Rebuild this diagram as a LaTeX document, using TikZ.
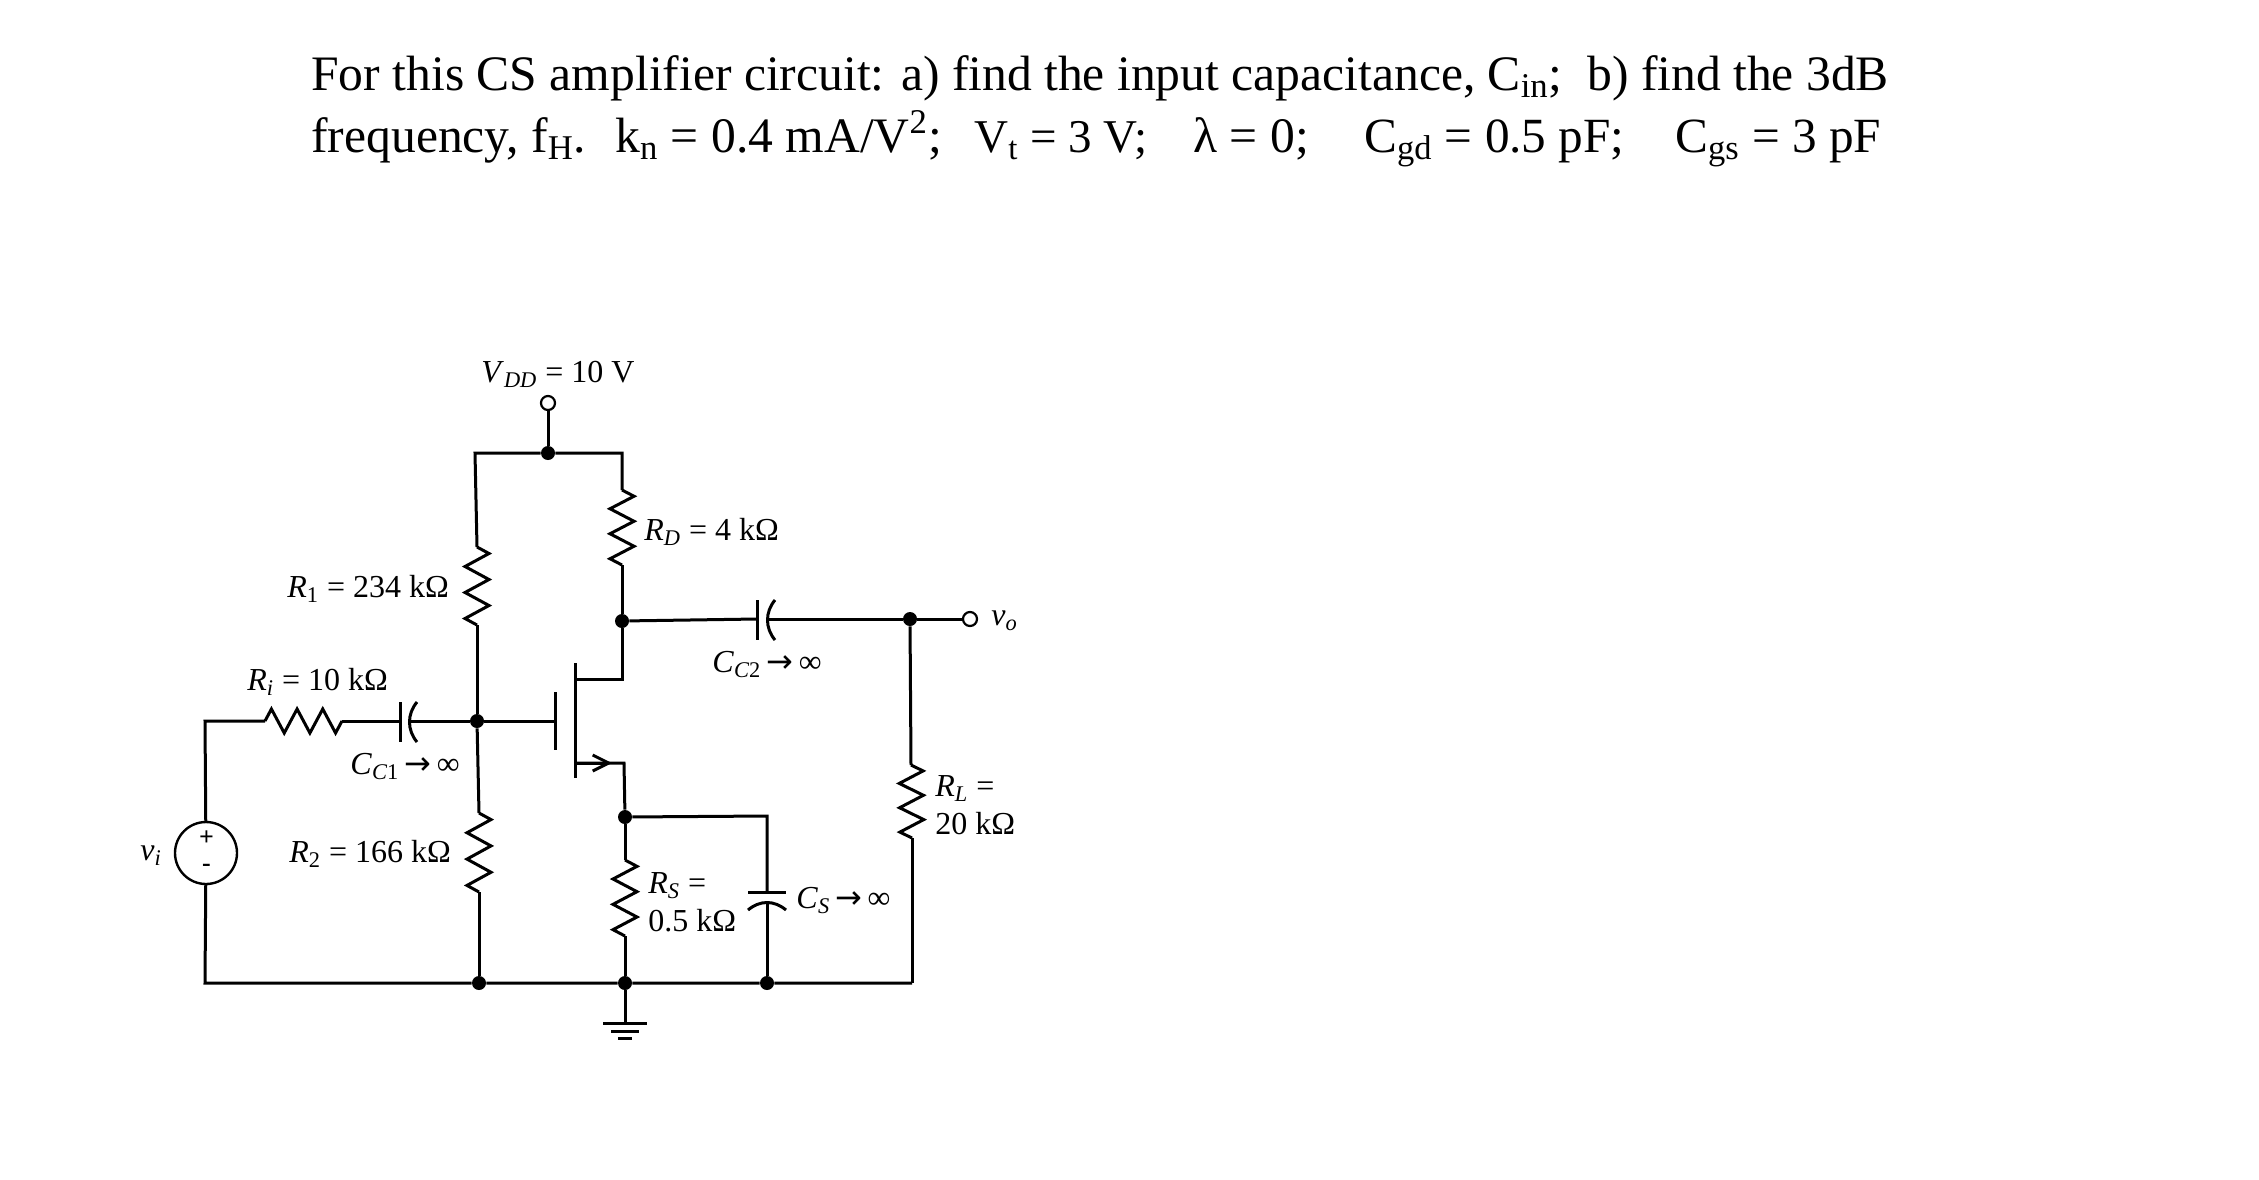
\documentclass[tikz,border=0pt]{standalone}
\usepackage{fontspec}
\setmainfont{Liberation Serif}
\newfontfamily\arrowfont{DejaVu Sans}
\usetikzlibrary{calc,arrows.meta}
\newcommand{\lsub}[1]{\textsubscript{#1}}
\newcommand{\toarrow}{{\arrowfont →}}
\newcommand{\zig}[2]{%
  \draw[wire] (#1)
   -- ($(#1)!1/12!(#2)!6pt!90:(#2)$)
   -- ($(#1)!3/12!(#2)!6pt!-90:(#2)$)
   -- ($(#1)!5/12!(#2)!6pt!90:(#2)$)
   -- ($(#1)!7/12!(#2)!6pt!-90:(#2)$)
   -- ($(#1)!9/12!(#2)!6pt!90:(#2)$)
   -- ($(#1)!11/12!(#2)!6pt!-90:(#2)$)
   -- (#2);}
\tikzset{
  wire/.style={line width=1.5pt,black},
  dot/.style={circle,fill=black,inner sep=0pt,minimum size=7pt},
  term/.style={circle,draw=black,fill=white,line width=1.1pt,inner sep=0pt,minimum size=7pt},
  lab/.style={anchor=base west,inner sep=0pt,font=\fontsize{16}{18}\selectfont},
  ttl/.style={anchor=base west,inner sep=0pt,font=\fontsize{24.8}{27}\selectfont},
}
\begin{document}
\begin{tikzpicture}[x=.5pt,y=-.5pt]
\useasboundingbox (0,0) rectangle (2259,1179);
% title
\node[ttl] (t1) at (311,90) {For this CS amplifier circuit: a) find the input capacitance, C\lsub{in};\ \ b) find the 3dB};
\node[ttl] (t2) at (311,152) {frequency, f\lsub{H}.};
\node[ttl] (t3) at (615,152) {k\lsub{n} = 0.4 mA/V\textsuperscript{2};};
\node[ttl,font=\fontsize{23.5}{27}\selectfont] (t4) at (974,152) {V\lsub{t} = 3 V;};
\node[ttl] (t5) at (1193,152) {λ = 0;};
\node[ttl,font=\fontsize{24.6}{27}\selectfont] (t6) at (1364,152) {C\lsub{gd} = 0.5 pF;};
\node[ttl,font=\fontsize{24.6}{27}\selectfont] (t7) at (1675,152) {C\lsub{gs} = 3 pF};
% junctions and terminals
\node[term] (vdd) at (548,403) {};
\node[dot] (jtop) at (548,453) {};
\node[dot] (jg) at (477,721) {};
\node[dot] (jd) at (622,621) {};
\node[dot] (jo) at (910,619) {};
\node[term] (vo) at (970,619) {};
\node[dot] (js) at (625,817) {};
\node[dot] (jb2) at (479,983) {};
\node[dot] (jb3) at (625,983) {};
\node[dot] (jb4) at (767,983) {};
\node[circle,draw=black,line width=1.2pt,inner sep=0pt,minimum size=31pt] (src) at (206,853) {};
% corners and element ends
\coordinate (tl) at (475,453);
\coordinate (tr) at (622,453);
\coordinate (r1t) at (477,547);
\coordinate (r1b) at (477,625);
\coordinate (rdt) at (622,490);
\coordinate (rdb) at (622,565);
\coordinate (r2t) at (479,813);
\coordinate (r2b) at (479,892);
\coordinate (rst) at (625,860);
\coordinate (rsb) at (625,936);
\coordinate (rlt) at (911,765);
\coordinate (rlb) at (912,838);
\coordinate (ril) at (265,721);
\coordinate (rir) at (342,721);
\coordinate (il) at (205,721);
\coordinate (bl) at (205,983);
\coordinate (br) at (912,983);
\coordinate (c1a) at (400,721);
\coordinate (c1b) at (410,721);
\coordinate (c2a) at (757,619);
\coordinate (c2b) at (768,619);
\coordinate (csc) at (767,816);
\coordinate (csa) at (767,892);
\coordinate (csb) at (767,903);
\coordinate (gate) at (555,721);
\coordinate (dch) at (575,679);
\coordinate (dcr) at (622,679);
\coordinate (sch) at (575,763);
\coordinate (scr) at (624,763);
\coordinate (tip) at (612,763);
\coordinate (gnd) at (625,1023);
% wiring
\draw[wire] (vdd) -- (jtop);
\draw[wire] (r1t) -- (tl) -- (jtop) -- (tr) -- (rdt);
\zig{r1t}{r1b}
\zig{rdt}{rdb}
\draw[wire] (r1b) -- (jg);
\draw[wire] (jg) -- (r2t);
\zig{r2t}{r2b}
\draw[wire] (r2b) -- (jb2);
\draw[wire] (rdb) -- (jd);
\draw[wire] (jd) -- (dcr) -- (dch);
\draw[wire] (jd) -- (c2a);
\draw[wire] (c2b) -- (jo);
\draw[wire] (jo) -- (vo);
\draw[wire] (jo) -- (rlt);
\zig{rlt}{rlb}
\draw[wire] (rlb) -- (br);
% input branch
\draw[wire] (src) -- (il) -- (ril);
\zig{ril}{rir}
\draw[wire] (rir) -- (c1a);
\draw[wire] (c1b) -- (jg);
\draw[wire] (jg) -- (gate);
% capacitors
\draw[wire] (400,702) -- (400,742);
\draw[wire] (417,702) .. controls (407,714) and (407,730) .. (417,742);
\draw[wire] (757,600) -- (757,640);
\draw[wire] (775,600) .. controls (765,612) and (765,628) .. (775,640);
\draw[wire] (748,892) -- (786,892);
\draw[wire] (748,910) .. controls (760,900) and (774,900) .. (786,910);
% MOSFET
\draw[wire] (555,692) -- (555,750);
\draw[wire] (575,663) -- (575,778);
\draw[wire] (sch) -- (scr) -- (js);
\draw[wire,-{Straight Barb[length=8pt,width=8pt]}] (sch) -- (tip);
\draw[wire] (js) -- (rst);
\zig{rst}{rsb}
\draw[wire] (rsb) -- (jb3);
\draw[wire] (js) -- (csc) -- (csa);
\draw[wire] (csb) -- (jb4);
% bottom rail
\draw[wire] (src) -- (bl) -- (jb2) -- (jb3) -- (jb4) -- (br);
% ground
\draw[wire] (jb3) -- (gnd);
\draw[wire] ($(gnd)+(-22,0)$) -- ($(gnd)+(22,0)$);
\draw[wire] ($(gnd)+(-14,8)$) -- ($(gnd)+(14,8)$);
\draw[wire] ($(gnd)+(-7,15)$) -- ($(gnd)+(7,15)$);
% source signs
\node[inner sep=0pt,font=\fontsize{13}{13}\bfseries\selectfont] (plus) at (206.5,838) {+};
\node[inner sep=0pt,font=\fontsize{13}{13}\bfseries\selectfont] (minus) at (206.5,868) {-};
% labels
\node[lab] (lvdd) at (481,382) {\textit{V}\lsub{\textit{DD}} = 10 V};
\node[lab] (lr1) at (287,597) {\textit{R}\lsub{1} = 234 kΩ};
\node[lab] (lri) at (247,690) {\textit{R\lsub{i}} = 10 kΩ};
\node[lab] (lc1) at (350,774) {\textit{C}\lsub{\textit{C}1}\,\toarrow\,∞};
\node[lab] (lrd) at (644,540) {\textit{R}\lsub{\textit{D}} = 4 kΩ};
\node[lab] (lc2) at (712,672) {\textit{C}\lsub{\textit{C}2}\,\toarrow\,∞};
\node[lab] (lrl) at (935,796) {\textit{R}\lsub{\textit{L}} =};
\node[lab] (lrl2) at (935,834) {20 kΩ};
\node[lab] (lvo) at (991,625) {\textit{v}\lsub{\textit{o}}};
\node[lab] (lvi) at (140,860) {\textit{v}\lsub{\textit{i}}};
\node[lab] (lr2) at (289,862) {\textit{R}\lsub{2} = 166 kΩ};
\node[lab] (lrs) at (648,893) {\textit{R}\lsub{\textit{S}} =};
\node[lab] (lrs2) at (648,931) {0.5 kΩ};
\node[lab] (lcs) at (796,908) {\textit{C}\lsub{\textit{S}}\,\toarrow\,∞};
\end{tikzpicture}
\end{document}
